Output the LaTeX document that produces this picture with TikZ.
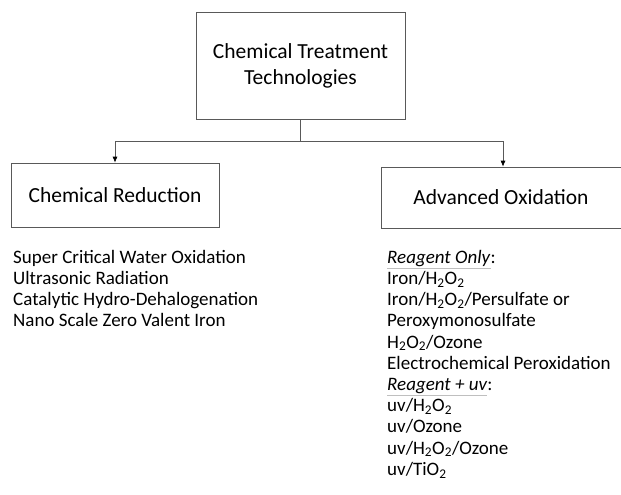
\documentclass[tikz,border=0pt]{standalone}
\usepackage{xcolor}
\usepackage{fontspec}
\setmainfont{Carlito}
\usepackage{tikz}
\usetikzlibrary{arrows.meta, positioning, calc}
\newcommand{\grayul}[1]{\textcolor{gray!50}{\underline{\textcolor{black}{#1}}}}
\newcommand{\hto}{H\textsubscript{2}O\textsubscript{2}}

\begin{document}
\begin{tikzpicture}[x=1pt, y=-1pt,
    box/.style={draw=black!65, line width=0.7pt, inner sep=0pt, align=center,
        font=\fontsize{21.5}{26}\selectfont},
    items/.style={inner sep=0pt, align=left, anchor=north west,
        font=\fontsize{19}{21.2}\selectfont},
    link/.style={draw=black!65, line width=0.7pt},
    arr/.style={link, -{Latex[length=6pt, width=5pt, black]}}]
\useasboundingbox (0,0) rectangle (621,495);
% Boxes
\node[box, minimum width=209, minimum height=107] (ctt) at (300.5,65.5)
    {Chemical Treatment\\Technologies};
\node[box, minimum width=208, minimum height=64] (red) at (115,195)
    {Chemical Reduction};
\node[box, minimum width=244, minimum height=61] (oxd) at (503,197.5)
    {\hspace*{-4pt}Advanced Oxidation};
% Connectors
\coordinate (split) at (ctt.south |- 0,141);
\draw[link] (ctt.south) -- (split);
\draw[arr] (split) -| (red.north);
\draw[arr] (split) -| (oxd.north);
% Lists
\node[items] (redlist) at (13,250) {Super Critical Water Oxidation\\
    Ultrasonic Radiation\\
    Catalytic Hydro-Dehalogenation\\
    Nano Scale Zero Valent Iron};
\node[items] (oxlist) at (387,250) {\grayul{\textit{Reagent Only}}:\\
    Iron/\hto\\
    Iron/\hto/Persulfate or\\
    Peroxymonosulfate\\
    \hto/Ozone\\
    Electrochemical Peroxidation\\
    \grayul{\textit{Reagent + uv}}:\\
    uv/\hto\\
    uv/Ozone\\
    uv/\hto/Ozone\\
    uv/TiO\textsubscript{2}};
\end{tikzpicture}
\end{document}
